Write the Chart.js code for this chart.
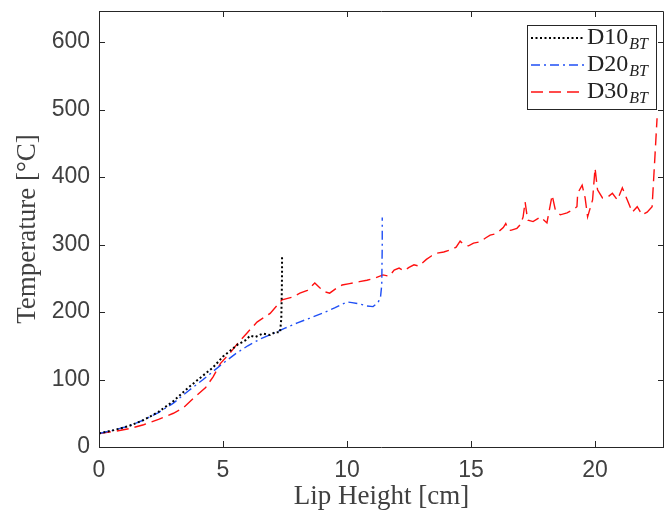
<!DOCTYPE html>
<html>
<head>
<meta charset="utf-8">
<title>Lip height vs temperature</title>
<script src="https://cdn.jsdelivr.net/npm/chart.js@4.4.1/dist/chart.umd.min.js"></script>
<style>
  html, body { margin: 0; padding: 0; background: #fff; }
</style>
</head>
<body>
<canvas id="chart" width="665" height="519"></canvas>
<script>
// Data (lip height in cm, temperature in degC)
const d10X = [0, 0.6, 1.2, 1.8, 2.4, 3.0, 3.6, 4.2, 4.6, 5.0, 5.3, 5.6, 5.9, 6.1, 6.3, 6.6, 6.9, 7.1, 7.3, 7.35, 7.37, 7.38, 7.38];
const d10Y = [20, 25, 31, 40, 52, 68, 88, 106, 118, 134, 143, 152, 158, 165, 163, 168, 166, 170, 170, 190, 230, 260, 285];

const d20X = [0, 0.6, 1.2, 1.8, 2.4, 3.0, 3.6, 4.2, 4.6, 5.0, 5.5, 6.0, 6.5, 7.0, 7.5, 8.0, 8.5, 9.0, 9.5, 10.0, 10.2, 10.5, 10.8, 11.05, 11.25, 11.35, 11.4, 11.42, 11.42];
const d20Y = [20, 25, 31, 40, 51, 65, 83, 100, 112, 124, 138, 150, 160, 168, 176, 184, 191, 198, 206, 215, 214, 212, 209, 208, 214, 222, 240, 300, 340];

const d30X = [0, 0.6, 1.2, 1.8, 2.4, 3.0, 3.4, 3.8, 4.3, 4.6, 4.9, 5.3, 5.6, 5.97, 6.37, 6.9, 7.38, 7.8, 8.1, 8.4, 8.7, 8.9, 9.1, 9.3, 9.6, 9.8, 10.1, 10.5, 10.8, 11.1, 11.45, 11.7, 11.9, 12.1, 12.3, 12.5, 12.7, 12.9, 13.2, 13.4, 13.6, 13.9, 14.15, 14.4, 14.56, 14.7, 14.9, 15.1, 15.36, 15.6, 15.77, 16.0, 16.17, 16.3, 16.4, 16.5, 16.6, 16.85, 17.0, 17.1, 17.18, 17.25, 17.3, 17.5, 17.8, 18.06, 18.27, 18.4, 18.6, 18.87, 19.07, 19.27, 19.3, 19.48, 19.6, 19.7, 19.9, 20.0, 20.1, 20.3, 20.5, 20.7, 20.9, 21.1, 21.3, 21.5, 21.7, 21.9, 22.1, 22.3, 22.4, 22.5];
const d30Y = [20, 23, 27, 33, 41, 50, 58, 72, 88, 104, 124, 140, 154, 169, 185, 198, 218, 222, 228, 232, 243, 236, 230, 228, 236, 240, 242, 245, 247, 250, 255, 253, 262, 265, 261, 266, 270, 268, 278, 283, 287, 289, 292, 296, 305, 300, 298, 302, 304, 310, 314, 316, 321, 325, 331, 322, 321, 324, 330, 341, 363, 345, 336, 334, 341, 332, 373, 351, 344, 347, 351, 356, 376, 388, 369, 341, 366, 413, 381, 369, 370, 376, 366, 384, 366, 348, 356, 344, 348, 356, 421, 487];

const seriesLabels = ['D10_BT', 'D20_BT', 'D30_BT'];
const xTicks = [0, 5, 10, 15, 20];
const yTicks = [0, 100, 200, 300, 400, 500, 600];

const toPoints = (xs, ys) => xs.map((x, i) => ({ x: x, y: ys[i] }));

const AXIS_COLOR = '#262626';
const TEXT_COLOR = '#404040';

// MATLAB-style box with inward ticks on all four sides
const boxPlugin = {
  id: 'matlabBox',
  afterDatasetsDraw(chart) {
    const { ctx, chartArea: a, scales } = chart;
    const tl = 6;
    ctx.save();
    ctx.strokeStyle = AXIS_COLOR;
    ctx.lineWidth = 1;
    ctx.beginPath();
    ctx.moveTo(a.left + 0.5, a.top + 0.5);
    ctx.lineTo(a.right - 0.5, a.top + 0.5);
    ctx.lineTo(a.right - 0.5, a.bottom + 0.5);
    ctx.lineTo(a.left + 0.5, a.bottom + 0.5);
    ctx.closePath();
    xTicks.forEach(t => {
      const px = Math.round(scales.x.getPixelForValue(t)) + 0.5;
      ctx.moveTo(px, a.bottom);
      ctx.lineTo(px, a.bottom - tl);
      ctx.moveTo(px, a.top);
      ctx.lineTo(px, a.top + tl);
    });
    yTicks.forEach(t => {
      const py = Math.round(scales.y.getPixelForValue(t)) + 0.5;
      ctx.moveTo(a.left, py);
      ctx.lineTo(a.left + tl, py);
      ctx.moveTo(a.right, py);
      ctx.lineTo(a.right - tl, py);
    });
    ctx.stroke();
    ctx.restore();
  }
};

// legend box in the top right corner, label text with subscript
const legendPlugin = {
  id: 'subLegend',
  afterDraw(chart) {
    const { ctx, chartArea: a } = chart;
    const w = 129, h = 84;
    const x0 = a.right - 8 - w;
    const y0 = a.top + 14;
    ctx.save();
    ctx.fillStyle = '#fff';
    ctx.fillRect(x0, y0, w, h);
    ctx.strokeStyle = AXIS_COLOR;
    ctx.lineWidth = 1;
    ctx.strokeRect(x0 + 0.5, y0 + 0.5, w, h);
    chart.data.datasets.forEach((ds, i) => {
      const y = y0 + 13 + i * 27;
      ctx.strokeStyle = ds.borderColor;
      ctx.lineWidth = ds.borderWidth;
      ctx.setLineDash(ds.borderDash || []);
      ctx.beginPath();
      ctx.moveTo(x0 + 4, y);
      ctx.lineTo(x0 + 57, y);
      ctx.stroke();
      ctx.setLineDash([]);
      const [main, sub] = ds.label.split('_');
      ctx.fillStyle = '#222';
      ctx.textBaseline = 'middle';
      ctx.font = '24px "Liberation Serif"';
      ctx.fillText(main, x0 + 60, y);
      const mw = ctx.measureText(main).width;
      ctx.font = 'italic 16px "Liberation Serif"';
      ctx.fillText(sub, x0 + 61 + mw, y + 7);
    });
    ctx.restore();
  }
};

const chart = new Chart(document.getElementById('chart'), {
  type: 'scatter',
  data: {
    datasets: [
      {
        label: seriesLabels[0],
        data: toPoints(d10X, d10Y),
        borderColor: '#000000',
        borderWidth: 2,
        borderDash: [2, 2.5]
      },
      {
        label: seriesLabels[1],
        data: toPoints(d20X, d20Y),
        borderColor: '#1f4ff5',
        borderWidth: 1.4,
        borderDash: [9, 4, 2, 4]
      },
      {
        label: seriesLabels[2],
        data: toPoints(d30X, d30Y),
        borderColor: '#ff1010',
        borderWidth: 1.4,
        borderDash: [12, 6]
      }
    ]
  },
  options: {
    responsive: false,
    animation: false,
    showLine: true,
    elements: { point: { radius: 0 }, line: { tension: 0 } },
    layout: { padding: { top: 11, right: 1, bottom: 0, left: 0 } },
    plugins: {
      legend: { display: false },
      tooltip: { enabled: false }
    },
    scales: {
      x: {
        type: 'linear',
        min: 0,
        max: 22.78,
        grid: { display: false, drawTicks: false },
        border: { display: false },
        ticks: {
          stepSize: 5,
          includeBounds: false,
          padding: 10,
          color: TEXT_COLOR,
          font: { family: '"Liberation Sans", Arial', size: 23 }
        },
        title: {
          display: true,
          text: 'Lip Height [cm]',
          color: TEXT_COLOR,
          padding: { top: 0, bottom: 6 },
          font: { family: '"Liberation Serif", serif', size: 27 }
        },
        afterFit(scale) {
          scale.height = 72;
          scale.paddingLeft = 0;
          scale.paddingRight = 0;
        }
      },
      y: {
        type: 'linear',
        min: 0,
        max: 646,
        grid: { display: false, drawTicks: false },
        border: { display: false },
        ticks: {
          stepSize: 100,
          includeBounds: false,
          padding: 9,
          color: TEXT_COLOR,
          font: { family: '"Liberation Sans", Arial', size: 23 }
        },
        title: {
          display: true,
          text: 'Temperature [°C]',
          color: TEXT_COLOR,
          padding: { top: 12, bottom: 0 },
          font: { family: '"Liberation Serif", serif', size: 27 }
        },
        afterFit(scale) {
          scale.width = 99;
          scale.paddingTop = 0;
          scale.paddingBottom = 0;
        }
      }
    }
  },
  plugins: [boxPlugin, legendPlugin]
});
</script>
</body>
</html>
